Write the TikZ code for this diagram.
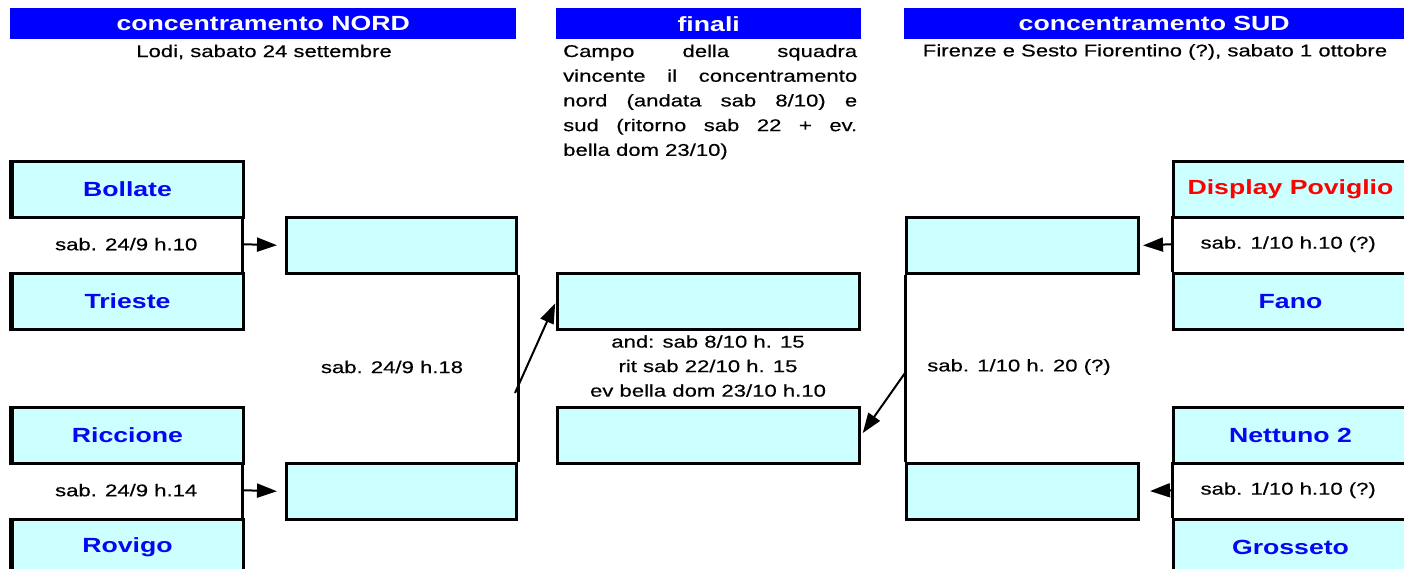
\documentclass[tikz,border=0pt]{standalone}
\usepackage{fontspec}
\setmainfont{Liberation Sans}[FakeStretch=1.3, UprightFeatures={FakeBold=0.4}]
\usetikzlibrary{arrows.meta}
\definecolor{cellc}{HTML}{CCFFFF}
\definecolor{hdrblue}{HTML}{0000FF}
\definecolor{teamblue}{HTML}{0606F2}
\definecolor{teamred}{HTML}{FF0000}
\tikzset{
  team/.style={draw, line width=3pt, fill=cellc, minimum width=232pt, minimum height=56pt,
    inner sep=0pt, anchor=north west, font=\fontsize{20.5}{24}\selectfont\bfseries, text=teamblue},
  cell/.style={minimum width=232pt, minimum height=56pt, inner sep=0pt, anchor=north west,
    font=\fontsize{17}{20}\selectfont},
  slot/.style={draw, line width=3pt, fill=cellc, minimum height=56pt, inner sep=0pt, anchor=north west},
  hdr/.style={fill=hdrblue, text=white, font=\fontsize{20.5}{24}\selectfont\bfseries,
    inner sep=0pt, minimum height=31pt, anchor=north west},
  lbl/.style={font=\fontsize{17}{20}\selectfont, inner sep=0pt},
  arr/.style={line width=2pt, -{Triangle[length=20pt,width=14pt]}},
  link/.style={line width=3pt},
  thickedge/.style={line width=5.5pt}
}
\begin{document}
\begin{tikzpicture}[x=1pt,y=-1pt]
\useasboundingbox (0,0) rectangle (1404,568);
\fill[white] (0,0) rectangle (1404,568);
\clip (0,0) rectangle (1404,568);

% headers
\node[hdr, minimum width=506pt] (hN) at (10,8) {concentramento NORD};
\node[hdr, minimum width=305pt] (hF) at (556,8) {finali};
\node[hdr, minimum width=500pt] (hS) at (904,8) {concentramento SUD};
\node[lbl] (sN) at (264,52) {Lodi, sabato 24 settembre};
\node[lbl] (sS) at (1155,52) {Firenze e Sesto Fiorentino (?), sabato 1 ottobre};
\node[lbl, anchor=north west, align=left, font=\fontsize{17}{24.7}\selectfont] (pF) at (563,44.5)
  {\makebox[294pt][s]{Campo della squadra}\\
   \makebox[294pt][s]{vincente il concentramento}\\
   \makebox[294pt][s]{nord (andata sab 8/10) e}\\
   \makebox[294pt][s]{sud (ritorno sab 22 + ev.}\\
   bella dom 23/10)};

% left teams
\node[team] (bol) at (10,160) {Bollate};
\node[cell] (c1) at (10,216) {sab. 24/9 h.10};
\node[team] (tri) at (10,272) {Trieste};
\node[team] (ric) at (10,406) {Riccione};
\node[cell] (c2) at (10,462) {sab. 24/9 h.14};
\node[team] (rov) at (10,518) {Rovigo};
\draw[link] (c1.north east) -- (c1.south east);
\draw[link] (c2.north east) -- (c2.south east);
\foreach \n in {bol,tri,ric,rov}{
  \draw[thickedge] ([xshift=1.5pt]\n.north west) -- ([xshift=1.5pt]\n.south west);
}

% right teams
\node[team, minimum width=234pt, text=teamred] (dis) at (1172,160) {Display Poviglio};
\node[cell] (c3) at (1172,216) {sab. 1/10 h.10 (?)};
\node[team, minimum width=234pt] (fan) at (1172,272) {Fano};
\node[team, minimum width=234pt] (net) at (1172,406) {Nettuno 2};
\node[cell] (c4) at (1172,462) {sab. 1/10 h.10 (?)};
\node[team, minimum width=234pt] (gro) at (1172,518) {Grosseto};
\draw[link] (c3.north west) -- (c3.south west);
\draw[link] (c4.north west) -- (c4.south west);

% semifinal slots
\node[slot, minimum width=230pt] (s1) at (285,216) {};
\node[slot, minimum width=230pt] (s2) at (285,462) {};
\node[slot, minimum width=232pt] (s3) at (905,216) {};
\node[slot, minimum width=232pt] (s4) at (905,462) {};
\draw[link] (s1.south east) -- (s2.north east);
\draw[link] (s3.south west) -- (s4.north west);
\node[lbl] (q1) at (392,367) {sab. 24/9 h.18};
\node[lbl] (q2) at (1019,367) {sab. 1/10 h. 20 (?)};

% final slots
\node[slot, minimum width=302pt] (f1) at (556,272) {};
\node[slot, minimum width=302pt] (f2) at (556,406) {};
\node[lbl, align=center, font=\fontsize{17}{24.5}\selectfont] (qf) at (708,366)
  {and: sab 8/10 h. 15\\rit sab 22/10 h. 15\\ev bella dom 23/10 h.10};

% arrows
\draw[arr, shorten >=8pt] (c1.east) -- (s1.west);
\draw[arr, shorten >=8pt] (c2.east) -- (s2.west);
\draw[arr, shorten >=3pt] (c3.west) -- (s3.east);
\draw[arr, shorten >=10pt] (c4.west) -- (s4.east);
\coordinate (j1) at (515,393);
\coordinate (j2) at (905,373);
\draw[arr, shorten >=2pt] (j1) -- (f1.west);
\draw[arr, shorten >=3pt] (j2) -- (f2.east);
\end{tikzpicture}
\end{document}
